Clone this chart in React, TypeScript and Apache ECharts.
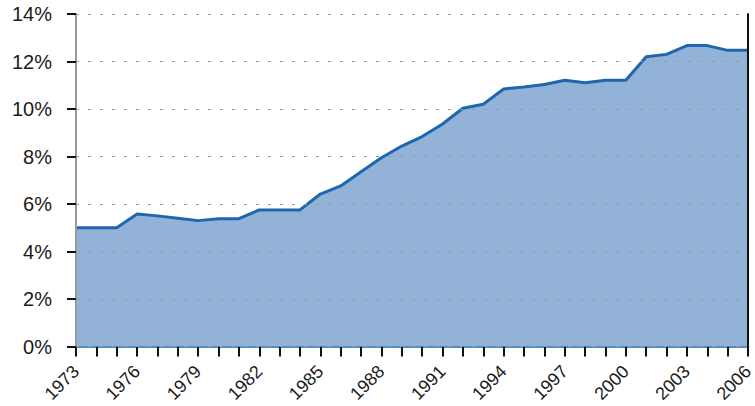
import React, { useEffect, useRef } from "react";
import * as echarts from "echarts";

const years = [
  "1973", "1974", "1975", "1976", "1977", "1978", "1979", "1980", "1981", "1982",
  "1983", "1984", "1985", "1986", "1987", "1988", "1989", "1990", "1991", "1992",
  "1993", "1994", "1995", "1996", "1997", "1998", "1999", "2000", "2001", "2002",
  "2003", "2004", "2005", "2006",
];
const shares = [
  5.0, 5.0, 5.0, 5.58, 5.5, 5.4, 5.3, 5.38, 5.38, 5.75,
  5.75, 5.75, 6.42, 6.76, 7.36, 7.95, 8.44, 8.84, 9.37, 10.03,
  10.2, 10.84, 10.93, 11.03, 11.21, 11.11, 11.21, 11.21, 12.2, 12.3,
  12.67, 12.67, 12.47, 12.47,
];
const yMin = 0;
const yMax = 14;
const yStep = 2;

const FONT = "'Liberation Sans', Arial, sans-serif";

export default function App() {
  const ref = useRef<HTMLDivElement>(null);
  useEffect(() => {
    if (!ref.current) return;
    const chart = echarts.init(ref.current, undefined, { renderer: "svg" });
    chart.setOption({
      animation: false,
      backgroundColor: "#ffffff",
      grid: {
        left: 76,
        right: 7,
        top: 14,
        bottom: 59.5,
        containLabel: false,
        outerBoundsMode: "none",
      },
      xAxis: {
        type: "category",
        data: years,
        boundaryGap: false,
        axisLine: { show: true, lineStyle: { color: "#1f66ad", width: 2.5 } },
        axisTick: {
          show: true,
          interval: 0,
          length: 10,
          lineStyle: { color: "#111", width: 2 },
        },
        axisLabel: {
          interval: 2,
          rotate: 45,
          margin: 22,
          fontFamily: FONT,
          fontSize: 18,
          color: "#1a1a1a",
        },
        splitLine: { show: false },
      },
      yAxis: [
        {
          type: "value",
          min: yMin,
          max: yMax,
          interval: yStep,
          z: 5,
          axisLine: { show: true, lineStyle: { color: "#999", width: 2 } },
          axisTick: { show: true, length: 9, lineStyle: { color: "#111", width: 2 } },
          axisLabel: {
            formatter: "{value}%",
            margin: 24,
            fontFamily: FONT,
            fontSize: 20,
            color: "#1a1a1a",
          },
          splitLine: {
            show: true,
            lineStyle: { color: "#999", width: 1, type: [3, 9] },
          },
        },
        {
          type: "value",
          position: "right",
          min: yMin,
          max: yMax,
          interval: yStep,
          z: 5,
          axisLine: { show: true, lineStyle: { color: "#111", width: 2 } },
          axisTick: { show: false },
          axisLabel: { show: false },
          splitLine: { show: false },
        },
      ],
      series: [
        {
          type: "line",
          data: shares,
          yAxisIndex: 0,
          symbol: "none",
          lineStyle: { color: "#1f66ad", width: 3 },
          areaStyle: { color: "#92b2d8", opacity: 1 },
          z: 2,
        },
      ],
    });
    return () => chart.dispose();
  }, []);
  return (
    <div
      ref={ref}
      style={{ position: "absolute", left: 0, top: 0, width: 755, height: 406 }}
    />
  );
}
